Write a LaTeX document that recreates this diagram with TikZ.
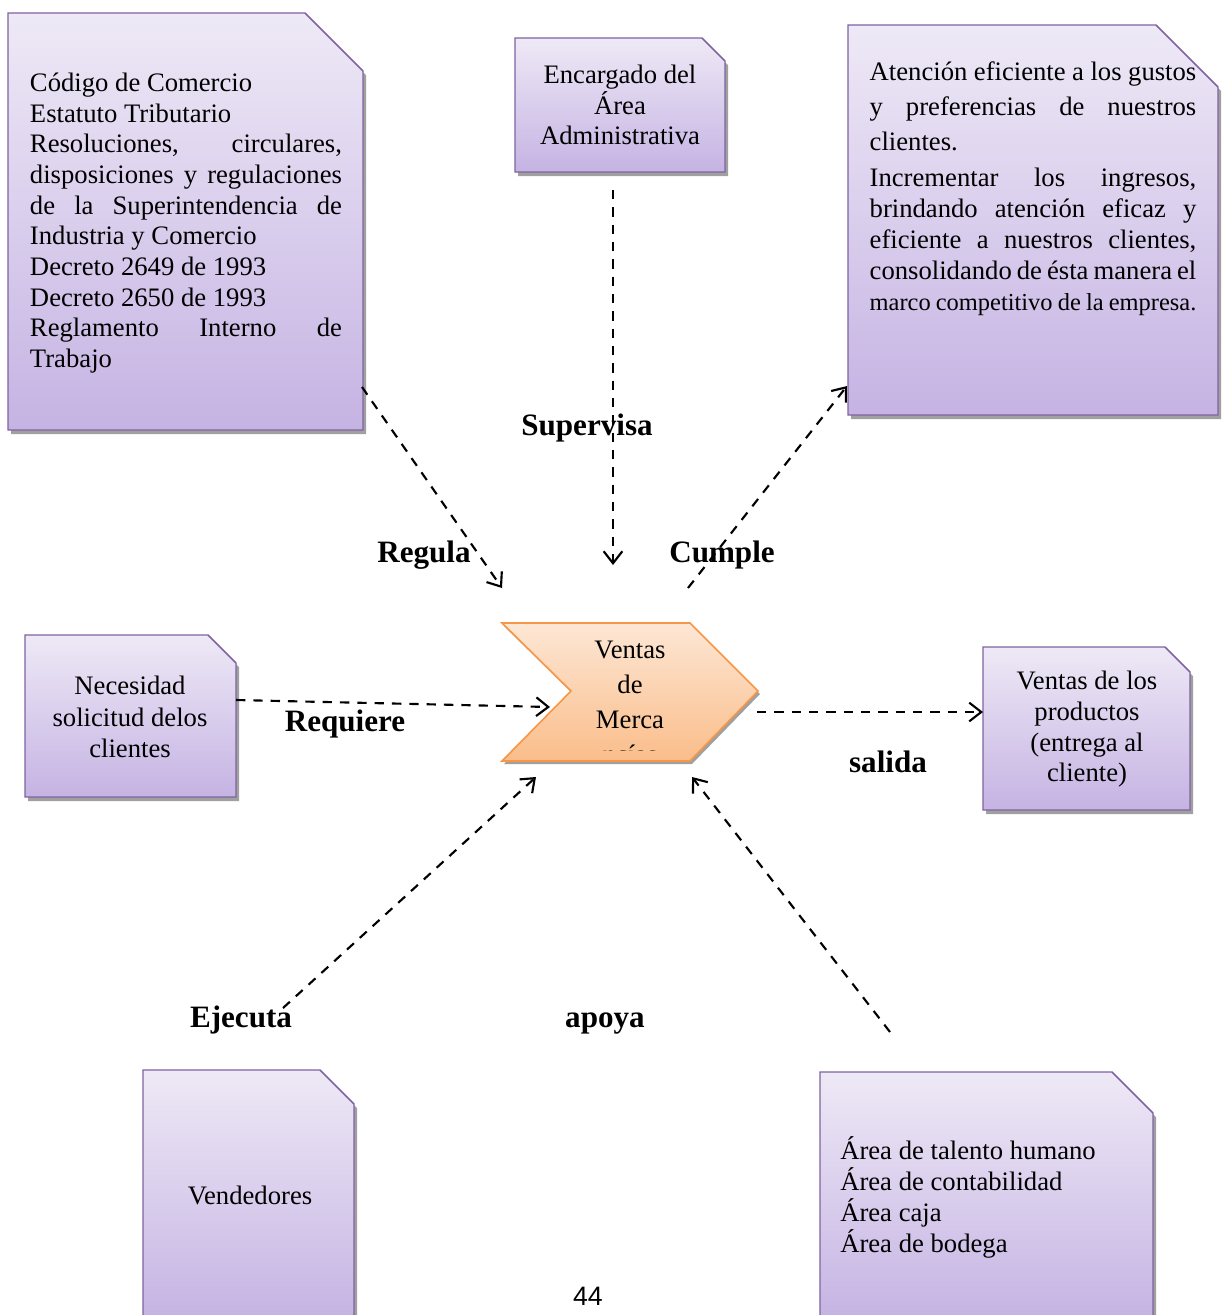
\documentclass[tikz,border=0pt]{standalone}
\usepackage{fontspec}
\setmainfont{Liberation Serif}
\newfontfamily\folio{Liberation Sans}
\usetikzlibrary{arrows.meta}

\definecolor{lavtop}{HTML}{EEE9F6}
\definecolor{lavbot}{HTML}{C5B3E3}
\definecolor{lavedge}{HTML}{8063A1}
\definecolor{cardshadow}{HTML}{A0A0A0}
\definecolor{chevtop}{HTML}{FDE7D5}
\definecolor{chevbot}{HTML}{FABD8A}
\definecolor{chevedge}{HTML}{F79646}

% card with a snipped top-right corner: left, top, right, bottom, snip
\newcommand\notecard[5]{%
  \fill[cardshadow] ({#1+3},{#2+4}) -- ({#3-#5+3},{#2+4}) -- ({#3+3},{#2+#5+4})
    -- ({#3+3},{#4+4}) -- ({#1+3},{#4+4}) -- cycle;
  \shade[top color=lavtop,bottom color=lavbot] (#1,#2) -- ({#3-#5},#2)
    -- (#3,{#2+#5}) -- (#3,#4) -- (#1,#4) -- cycle;
  \draw[cardedge] (#1,#2) -- ({#3-#5},#2) -- (#3,{#2+#5}) -- (#3,#4)
    -- (#1,#4) -- cycle;
}

\begin{document}
\begin{tikzpicture}[x=0.75pt,y=-0.75pt,
  cardedge/.style={draw=lavedge,line width=1.1pt,line join=miter},
  body/.style={font=\fontsize{20}{23}\selectfont,inner sep=0pt},
  centred/.style={body,align=center},
  justified/.style={body,align=justify},
  verb/.style={font=\fontsize{23.33}{28}\selectfont\bfseries,inner sep=0pt,anchor=base},
  conn/.style={line width=1.6pt,dash pattern=on 7pt off 6pt,
    -{Straight Barb[length=9pt,width=14pt]}}]
\useasboundingbox (0,0) rectangle (1225,1315);
\clip (0,0) rectangle (1225,1315);

% ---- cards ----
\notecard{8}{13}{363}{430}{58}
\notecard{515}{38}{725}{172}{23}
\notecard{848}{25}{1218}{415}{62}
\notecard{25}{635}{236}{797}{28}
\notecard{983}{647}{1190}{810}{25}
\notecard{143}{1070}{354}{1320}{34}
\notecard{820}{1072}{1153}{1320}{41}

% ---- central process chevron ----
\fill[cardshadow] (504,626) -- (692,626) -- (760,694) -- (692,764) -- (504,764) -- (573,694) -- cycle;
\shade[top color=chevtop,bottom color=chevbot]
  (502,623) -- (690,623) -- (758,691) -- (690,761) -- (502,761) -- (571,691) -- cycle;
\draw[draw=chevedge,line width=1.2pt,line join=miter]
  (502,623) -- (690,623) -- (758,691) -- (690,761) -- (502,761) -- (571,691) -- cycle;
\begin{scope}
  \clip (502,623) rectangle (690,750.5);
  \node[centred,font=\fontsize{20}{26.25}\selectfont] (process) at (630,702.5)
    {Ventas\\de\\Merca\\ncías};
\end{scope}

% ---- card texts ----
\node[justified,text width=234pt] (legal) at (186,223) {%
  \hyphenpenalty=10000
  Código de Comercio\par
  Estatuto Tributario\par
  Resoluciones, circulares,\linebreak
  disposiciones y regulaciones\linebreak
  de la Superintendencia de\linebreak
  Industria y Comercio\par
  Decreto 2649 de 1993\par
  Decreto 2650 de 1993\par
  Reglamento Interno de\linebreak
  Trabajo};

\node[centred] (supervisor) at (620,105) {Encargado del\\Área\\Administrativa};

\node[justified,text width=245pt] (goals) at (1033,189) {%
  \hyphenpenalty=10000
  \fontsize{20}{26.25}\selectfont
  Atención eficiente a los gustos\linebreak
  y preferencias de nuestros\linebreak
  clientes.\par
  \vspace{4pt}\fontsize{20}{23.25}\selectfont
  Incrementar los ingresos,\linebreak
  brindando atención eficaz y\linebreak
  eficiente a nuestros clientes,\linebreak
  consolidando de ésta manera el\linebreak
  {\fontsize{18.33}{23.25}\selectfont marco competitivo de la empresa.}\par};

\node[centred,font=\fontsize{20}{23.5}\selectfont] (need) at (130,717)
  {Necesidad\\solicitud delos\\clientes};

\node[centred] (output) at (1087,729.5)
  {Ventas de los\\productos\\(entrega al\\cliente)};

\node[body] (sellers) at (250,1195) {Vendedores};

\node[body,align=left,anchor=west,font=\fontsize{20}{23.25}\selectfont] (support) at (840,1197.5)
  {Área de talento humano\\Área de contabilidad\\Área caja\\Área de bodega};

% ---- relation verbs ----
\node[verb] (lblSupervisa) at (587,435) {Supervisa};
\node[verb] (lblRegula) at (424,562) {Regula};
\node[verb] (lblCumple) at (722,562) {Cumple};
\node[verb] (lblRequiere) at (345,731) {Requiere};
\node[verb] (lblSalida) at (888,772) {salida};
\node[verb] (lblEjecuta) at (241,1027) {Ejecuta};
\node[verb] (lblApoya) at (605,1027) {apoya};

% ---- page folio ----
\node[font=\folio\fontsize{20}{24}\selectfont,inner sep=0pt,anchor=base] (folio) at (588,1305) {44};

% ---- connector ends ----
\coordinate (regA) at (362,387);  \coordinate (regB) at (502,588);
\coordinate (supA) at (613,190);  \coordinate (supB) at (613,565);
\coordinate (cumA) at (688,588);  \coordinate (cumB) at (847,386);
\coordinate (reqA) at (236,700);  \coordinate (reqB) at (550,707);
\coordinate (salA) at (757,712);  \coordinate (salB) at (983,712);
\coordinate (ejeA) at (283,1008); \coordinate (ejeB) at (536,777);
\coordinate (apoA) at (890,1032); \coordinate (apoB) at (692,777);

% ---- connectors ----
\draw[conn] (regA) -- (regB);
\draw[conn] (supA) -- (supB);
\draw[conn] (cumA) -- (cumB);
\draw[conn] (reqA) -- (reqB);
\draw[conn] (salA) -- (salB);
\draw[conn] (ejeA) -- (ejeB);
\draw[conn] (apoA) -- (apoB);
\end{tikzpicture}
\end{document}
